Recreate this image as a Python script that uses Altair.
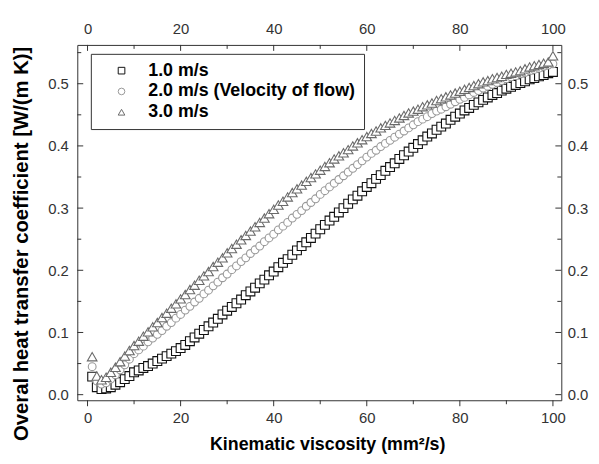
import altair as alt
import pandas as pd

# ---------------- data ----------------
X = list(range(1, 101))

S_1 = [0.029, 0.012, 0.009, 0.010, 0.012, 0.016, 0.020, 0.025, 0.030, 0.036,
       0.039, 0.043, 0.046, 0.050, 0.054, 0.058, 0.062, 0.066, 0.070, 0.075,
       0.080, 0.086, 0.092, 0.098, 0.104, 0.110, 0.116, 0.122, 0.129, 0.135,
       0.141, 0.147, 0.153, 0.160, 0.166, 0.172, 0.179, 0.185, 0.192, 0.198,
       0.205, 0.212, 0.218, 0.225, 0.232, 0.239, 0.245, 0.252, 0.259, 0.266,
       0.273, 0.280, 0.286, 0.293, 0.300, 0.307, 0.314, 0.320, 0.327, 0.334,
       0.340, 0.347, 0.353, 0.360, 0.366, 0.372, 0.379, 0.385, 0.391, 0.397,
       0.403, 0.409, 0.415, 0.420, 0.426, 0.431, 0.436, 0.442, 0.447, 0.452,
       0.457, 0.461, 0.466, 0.470, 0.474, 0.478, 0.482, 0.485, 0.489, 0.492,
       0.495, 0.498, 0.501, 0.504, 0.507, 0.509, 0.512, 0.514, 0.517, 0.519]

S_2 = [0.045, 0.022, 0.017, 0.019, 0.025, 0.032, 0.040, 0.048, 0.057, 0.066,
       0.072, 0.078, 0.085, 0.091, 0.097, 0.103, 0.110, 0.116, 0.123, 0.129,
       0.136, 0.142, 0.149, 0.155, 0.162, 0.168, 0.175, 0.181, 0.188, 0.194,
       0.201, 0.207, 0.214, 0.220, 0.227, 0.233, 0.239, 0.246, 0.252, 0.258,
       0.265, 0.271, 0.277, 0.284, 0.290, 0.296, 0.303, 0.309, 0.315, 0.322,
       0.328, 0.334, 0.340, 0.346, 0.352, 0.358, 0.364, 0.370, 0.376, 0.382,
       0.388, 0.393, 0.399, 0.404, 0.409, 0.414, 0.419, 0.424, 0.429, 0.434,
       0.439, 0.443, 0.447, 0.452, 0.456, 0.459, 0.463, 0.467, 0.471, 0.475,
       0.478, 0.482, 0.486, 0.489, 0.493, 0.496, 0.499, 0.502, 0.505, 0.508,
       0.511, 0.513, 0.516, 0.518, 0.521, 0.523, 0.525, 0.528, 0.530, 0.532]

S_3 = [0.061, 0.030, 0.024, 0.028, 0.036, 0.044, 0.053, 0.062, 0.071, 0.079,
       0.086, 0.094, 0.101, 0.109, 0.116, 0.124, 0.131, 0.139, 0.146, 0.154,
       0.161, 0.169, 0.176, 0.184, 0.191, 0.198, 0.206, 0.213, 0.220, 0.228,
       0.235, 0.242, 0.249, 0.256, 0.263, 0.270, 0.277, 0.284, 0.291, 0.298,
       0.305, 0.311, 0.318, 0.325, 0.331, 0.337, 0.343, 0.349, 0.355, 0.361,
       0.367, 0.373, 0.379, 0.384, 0.389, 0.394, 0.400, 0.405, 0.410, 0.415,
       0.420, 0.424, 0.429, 0.433, 0.437, 0.441, 0.445, 0.449, 0.453, 0.456,
       0.459, 0.463, 0.466, 0.469, 0.473, 0.476, 0.479, 0.482, 0.485, 0.488,
       0.491, 0.494, 0.497, 0.500, 0.503, 0.505, 0.508, 0.510, 0.512, 0.515,
       0.517, 0.519, 0.521, 0.524, 0.527, 0.529, 0.531, 0.533, 0.535, 0.545]

SERIES = ["1.0 m/s", "2.0 m/s (Velocity of flow)", "3.0 m/s"]
SHAPES = ["square", "circle", "triangle-up"]
STROKES = ["#111111", "#999999", "#6a6a6a"]
SIZES = [80, 62, 95]

X_MAJOR = [0, 20, 40, 60, 80, 100]
X_MINOR = [10, 30, 50, 70, 90]
Y_MAJOR = [0.0, 0.1, 0.2, 0.3, 0.4, 0.5]
Y_MINOR = [0.05, 0.15, 0.25, 0.35, 0.45, 0.55]

# ---------------- layout / style ----------------
W, H = 489, 359
XDOM = [-2.2, 101.8]
YDOM = [-0.009, 0.5624]
FONT = "Liberation Sans"
INK = "#333333"

xs = alt.Scale(domain=XDOM, nice=False, zero=False)
ys = alt.Scale(domain=YDOM, nice=False, zero=False)
shape_scale = alt.Scale(domain=SERIES, range=SHAPES)
stroke_scale = alt.Scale(domain=SERIES, range=STROKES)

legend = alt.Legend(
    title=None, orient="none", legendX=13.7, legendY=9, direction="vertical",
    strokeColor=INK, fillColor="white", padding=8, symbolOffset=14,
    labelOffset=18, labelFont=FONT, labelFontSize=18, labelFontWeight="bold",
    labelColor="black", labelLimit=0, rowPadding=3, symbolSize=45,
    symbolStrokeWidth=1, symbolFillColor="white",
)

x_bottom = alt.Axis(
    orient="bottom", values=X_MAJOR, format="d", ticks=False, domain=False, grid=False,
    labelPadding=10, labelFont=FONT, labelFontSize=15, labelColor=INK,
    title="Kinematic viscosity (mm²/s)", titleFont=FONT, titleFontSize=18,
    titleFontWeight="bold", titleColor="black", titleX=W / 2 + 8, titleY=54,
    titleBaseline="bottom", titleAlign="center")
y_left = alt.Axis(
    orient="left", values=Y_MAJOR, format=".1f", ticks=False, domain=False, grid=False,
    labelPadding=9, labelFont=FONT, labelFontSize=15, labelColor=INK,
    title="Overal heat transfer coefficient [W/(m K)]", titleFont=FONT, titleFontSize=20.5,
    titleFontWeight="bold", titleColor="black", titleX=-56, titleY=H / 2 + 21,
    titleBaseline="middle", titleAlign="center")


def series_layer(i, first):
    d = pd.DataFrame({"x": X, "y": [S_1, S_2, S_3][i], "series": SERIES[i]})
    enc = dict(
        x=alt.X("x:Q", scale=xs, axis=x_bottom if first else None),
        y=alt.Y("y:Q", scale=ys, axis=y_left if first else None),
        shape=alt.Shape("series:N", scale=shape_scale, legend=legend),
        stroke=alt.Stroke("series:N", scale=stroke_scale, legend=legend),
    )
    return alt.Chart(d).mark_point(
        filled=True, fill="white", strokeWidth=1.1, opacity=1, size=SIZES[i]
    ).encode(**enc)


mirror_df = pd.DataFrame({"x": X_MAJOR, "y": Y_MAJOR})
mirror = alt.Chart(mirror_df).mark_point(opacity=0).encode(
    x=alt.X("x:Q", scale=xs, axis=alt.Axis(
        orient="top", values=X_MAJOR, format="d", ticks=False, domain=False, grid=False,
        labelPadding=9, labelFont=FONT, labelFontSize=15, labelColor=INK, title=None)),
    y=alt.Y("y:Q", scale=ys, axis=alt.Axis(
        orient="right", values=Y_MAJOR, format=".1f", ticks=False, domain=False, grid=False,
        labelPadding=6, labelFont=FONT, labelFontSize=15, labelColor=INK, title=None)),
)

xmaj = pd.DataFrame({"v": X_MAJOR})
xmin = pd.DataFrame({"v": X_MINOR})
ymaj = pd.DataFrame({"v": Y_MAJOR})
ymin = pd.DataFrame({"v": Y_MINOR})


def xticks(d, y0, y1):
    return alt.Chart(d).mark_rule(color=INK, strokeWidth=1).encode(
        x=alt.X("v:Q", scale=xs, axis=None), y=alt.value(y0), y2=alt.value(y1))


def yticks(d, x0, x1):
    return alt.Chart(d).mark_rule(color=INK, strokeWidth=1).encode(
        y=alt.Y("v:Q", scale=ys, axis=None), x=alt.value(x0), x2=alt.value(x1))


ticks = [
    xticks(xmaj, 0, 6), xticks(xmin, 0, 4),
    xticks(xmaj, H, H + 6), xticks(xmin, H, H + 4),
    yticks(ymaj, 0, 6), yticks(ymin, 0, 4),
    yticks(ymaj, W - 6, W), yticks(ymin, W - 4, W),
]

layers = [series_layer(0, True), series_layer(1, False), series_layer(2, False), mirror] + ticks

chart = alt.layer(*layers).resolve_axis(
    x="independent", y="independent"
).properties(
    width=W, height=H,
    autosize=alt.AutoSizeParams(type="none"),
    padding={"left": 70, "top": 35, "right": 30, "bottom": 54},
).configure_view(stroke=INK, strokeWidth=1)

chart.save("out.html", embed_options={"renderer": "svg", "actions": False})
